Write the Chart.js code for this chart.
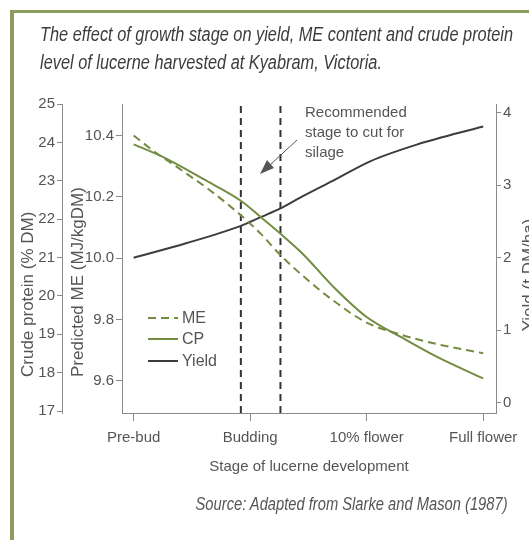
<!DOCTYPE html>
<html>
<head>
<meta charset="utf-8">
<script src="https://cdn.jsdelivr.net/npm/chart.js@4"></script>
<style>
  html, body { margin: 0; padding: 0; background: #fff; }
  body { width: 529px; height: 540px; position: relative; overflow: hidden; font-family: "Liberation Sans", Arial, sans-serif; }
  #chart { position: absolute; left: 0; top: 0; }
  .frame { position: absolute; background: #8d9d5c; }
  #frame-top { left: 10px; top: 10px; width: 519px; height: 3px; }
  #frame-left { left: 10px; top: 10px; width: 4px; height: 530px; }
  .narrow { position: absolute; white-space: nowrap; font-style: italic; line-height: 1; }
  #title1, #title2 { left: 40px; font-size: 20px; color: #3c3c3c; transform-origin: 0 0; }
  #title1 { top: 24px; }
  #title2 { top: 52px; }
  #source { right: 21px; top: 495px; font-size: 18px; color: #555; transform-origin: 100% 0; }
</style>
</head>
<body>
<canvas id="chart" width="529" height="540"></canvas>
<div class="frame" id="frame-top"></div>
<div class="frame" id="frame-left"></div>
<div class="narrow" id="title1">The effect of growth stage on yield, ME content and crude protein</div>
<div class="narrow" id="title2">level of lucerne harvested at Kyabram, Victoria.</div>
<div class="narrow" id="source">Source: Adapted from Slarke and Mason (1987)</div>
<script>
// stages on the x axis: 0 = Pre-bud ... 3 = Full flower
const stageLabels = ["Pre-bud", "Budding", "10% flower", "Full flower"];

// crude protein (% DM)
const cpStage = [0, 0.25, 0.6, 0.92, 1.1, 1.26, 1.45, 1.72, 2.0, 2.3, 2.6, 3.0];
const cpValues = [23.95, 23.62, 23.04, 22.48, 22.03, 21.62, 21.1, 20.22, 19.45, 18.92, 18.42, 17.85];

// predicted ME (MJ/kgDM)
const meStage = [0, 0.17, 0.4, 0.66, 0.92, 1.09, 1.26, 1.46, 1.72, 2.0, 2.3, 2.6, 3.0];
const meValues = [10.40, 10.35, 10.29, 10.22, 10.14, 10.08, 10.01, 9.94, 9.86, 9.79, 9.75, 9.72, 9.69];

// yield (t DM/ha)
const yieldStage = [0, 0.45, 0.92, 1.09, 1.26, 1.43, 1.72, 2.03, 2.43, 3.0];
const yieldValues = [2.0, 2.2, 2.44, 2.56, 2.68, 2.83, 3.07, 3.33, 3.56, 3.81];

// recommended cutting window (dashed verticals)
const cutStages = [0.92, 1.26];

const cpTicks = [17, 18, 19, 20, 21, 22, 23, 24, 25];
const meTicks = [9.6, 9.8, 10.0, 10.2, 10.4];
const yieldTicks = [0, 1, 2, 3, 4];

const meMin = 9.495, meMax = 10.503;

const green = "#738c41";
const dark = "#3d3d3d";
const axisGrey = "#8a8a8a";
const textGrey = "#555";

Chart.defaults.font.family = '"Liberation Sans", Arial, sans-serif';
Chart.defaults.color = textGrey;

const toPoints = (xs, ys) => xs.map((x, i) => ({ x: x, y: ys[i] }));

const datasets = [
  { label: "ME", data: toPoints(meStage, meValues), yAxisID: "yME",
    borderColor: green, borderWidth: 2, borderDash: [8, 5], cubicInterpolationMode: "monotone" },
  { label: "CP", data: toPoints(cpStage, cpValues), yAxisID: "yCP",
    borderColor: green, borderWidth: 2, cubicInterpolationMode: "monotone" },
  { label: "Yield", data: toPoints(yieldStage, yieldValues), yAxisID: "yYield",
    borderColor: dark, borderWidth: 2, cubicInterpolationMode: "monotone" }
];
cutStages.forEach(s => {
  datasets.push({ label: "cut", data: [{ x: s, y: meMin }, { x: s, y: meMax }], yAxisID: "yME",
    borderColor: "#333", borderWidth: 2, borderDash: [7, 5] });
});

function tickList(list) {
  return scale => { scale.ticks = list.map(v => ({ value: v })); };
}

const sideTicks = { drawOnChartArea: false, drawTicks: true, color: axisGrey };

// extra text: rotated axis titles, in-plot legend, the "recommended" note
const extras = {
  id: "extras",
  afterDraw(chart) {
    const ctx = chart.ctx;
    ctx.save();
    ctx.fillStyle = textGrey;
    ctx.textBaseline = "middle";

    const vText = (txt, x, y, align) => {
      ctx.save();
      ctx.translate(x, y);
      ctx.rotate(-Math.PI / 2);
      ctx.textAlign = align;
      ctx.fillText(txt, 0, 0);
      ctx.restore();
    };
    ctx.font = '17px "Liberation Sans", Arial, sans-serif';
    vText("Crude protein (% DM)", 28, 377, "left");
    vText("Predicted ME (MJ/kgDM)", 78, 377, "left");
    vText("Yield (t DM/ha)", 529, 275, "center");

    // legend
    ctx.font = '16px "Liberation Sans", Arial, sans-serif';
    const rows = [318, 339, 361];
    chart.data.datasets.slice(0, 3).forEach((ds, i) => {
      ctx.save();
      ctx.strokeStyle = ds.borderColor;
      ctx.lineWidth = 2;
      ctx.setLineDash(ds.borderDash || []);
      ctx.beginPath();
      ctx.moveTo(148, rows[i]);
      ctx.lineTo(178, rows[i]);
      ctx.stroke();
      ctx.restore();
      ctx.textAlign = "left";
      ctx.fillText(ds.label, 182, rows[i] + 1);
    });

    // note + arrow
    ctx.font = '15px "Liberation Sans", Arial, sans-serif';
    ctx.textAlign = "left";
    ["Recommended", "stage to cut for", "silage"].forEach((t, i) => ctx.fillText(t, 305, 113 + i * 20));
    ctx.strokeStyle = textGrey;
    ctx.lineWidth = 1;
    ctx.beginPath();
    ctx.moveTo(297, 140);
    ctx.lineTo(270, 165);
    ctx.stroke();
    ctx.beginPath();
    ctx.moveTo(260, 174);
    ctx.lineTo(274, 168);
    ctx.lineTo(267, 160);
    ctx.closePath();
    ctx.fill();
    ctx.restore();
  }
};

new Chart(document.getElementById("chart"), {
  type: "line",
  data: { datasets: datasets },
  plugins: [extras],
  options: {
    responsive: false,
    animation: false,
    elements: { point: { radius: 0 } },
    layout: { padding: { left: 14, right: 0, top: 104, bottom: 63 } },
    plugins: { legend: { display: false }, tooltip: { enabled: false } },
    scales: {
      x: {
        type: "linear", min: -0.1, max: 3.11,
        border: { color: axisGrey },
        grid: Object.assign({ tickLength: 8 }, sideTicks),
        afterBuildTicks: tickList([0, 1, 2, 3]),
        ticks: { callback: v => stageLabels[v], padding: 8, font: { size: 15 }, maxRotation: 0, autoSkip: false },
        title: { display: true, text: "Stage of lucerne development", font: { size: 15 }, padding: { top: 0, bottom: 1 } },
        afterFit: s => { s.height = 64; }
      },
      yCP: {
        type: "linear", position: "left", weight: 1, min: 16.95, max: 25, bounds: "data",
        border: { color: axisGrey },
        grid: Object.assign({ tickLength: 5 }, sideTicks),
        afterBuildTicks: tickList(cpTicks),
        ticks: { padding: 2, font: { size: 15 } },
        afterFit: s => { s.width = 48; }
      },
      yME: {
        type: "linear", position: "left", weight: 0, min: meMin, max: meMax, bounds: "data",
        border: { color: axisGrey },
        grid: Object.assign({ tickLength: 6 }, sideTicks),
        afterBuildTicks: tickList(meTicks),
        ticks: { padding: 2, font: { size: 15 }, callback: v => v.toFixed(1) },
        afterFit: s => { s.width = 60; }
      },
      yYield: {
        type: "linear", position: "right", min: -0.14, max: 4.12, bounds: "data",
        border: { color: axisGrey },
        grid: Object.assign({ tickLength: 5 }, sideTicks),
        afterBuildTicks: tickList(yieldTicks),
        ticks: { padding: 2, font: { size: 15 } },
        afterFit: s => { s.width = 33; }
      }
    }
  }
});

// squeeze the italic captions to the narrow face of the original
const t1 = document.getElementById("title1");
const k = 473 / t1.getBoundingClientRect().width;
t1.style.transform = "scaleX(" + k + ")";
document.getElementById("title2").style.transform = "scaleX(" + k + ")";
const src = document.getElementById("source");
src.style.transform = "scaleX(" + (312 / src.getBoundingClientRect().width) + ")";
</script>
</body>
</html>
